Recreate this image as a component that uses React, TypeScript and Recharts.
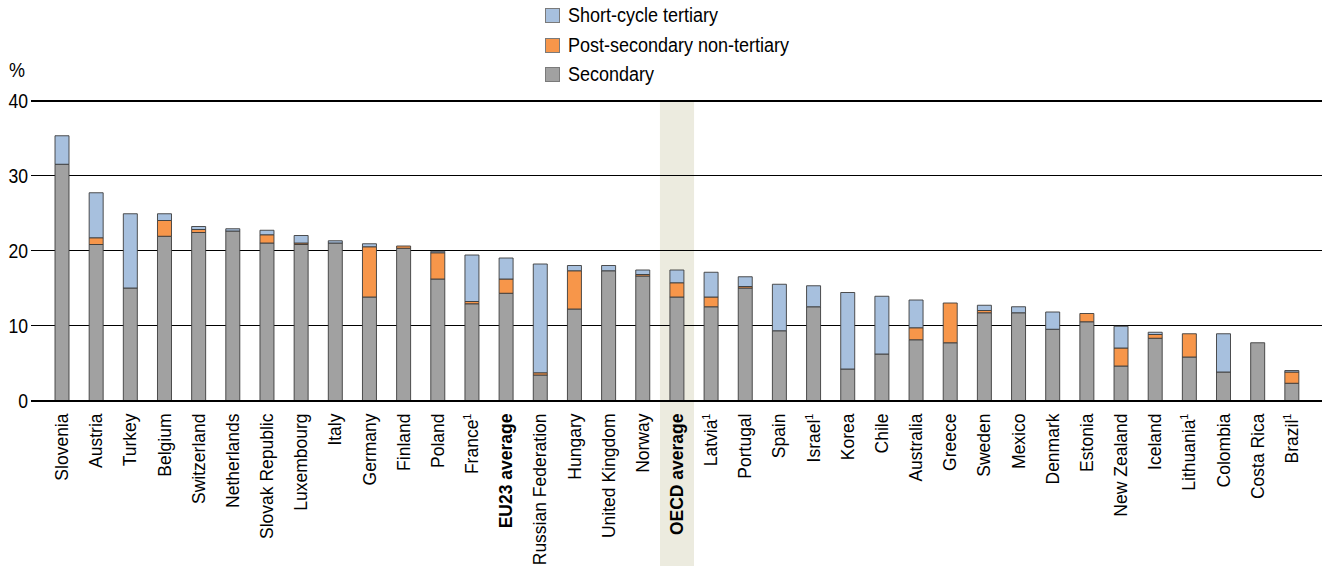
import {
  Bar,
  BarChart,
  Legend,
  ReferenceArea,
  ReferenceLine,
  XAxis,
  YAxis,
} from "recharts";

const countries = [
  "Slovenia", "Austria", "Turkey", "Belgium", "Switzerland", "Netherlands",
  "Slovak Republic", "Luxembourg", "Italy", "Germany", "Finland", "Poland",
  "France", "EU23 average", "Russian Federation", "Hungary", "United Kingdom",
  "Norway", "OECD average", "Latvia", "Portugal", "Spain", "Israel", "Korea",
  "Chile", "Australia", "Greece", "Sweden", "Mexico", "Denmark", "Estonia",
  "New Zealand", "Iceland", "Lithuania", "Colombia", "Costa Rica", "Brazil",
];

const secondary = [
  31.5, 20.8, 15.0, 21.9, 22.4, 22.6, 21.0, 20.8, 21.0, 13.8, 20.3, 16.2,
  12.9, 14.3, 3.4, 12.2, 17.3, 16.6, 13.8, 12.5, 15.0, 9.3, 12.5, 4.2,
  6.2, 8.1, 7.7, 11.7, 11.7, 9.5, 10.5, 4.6, 8.3, 5.8, 3.8, 7.7, 2.3,
];

const postSecondary = [
  0, 0.9, 0, 2.1, 0.4, 0, 1.1, 0.2, 0, 6.7, 0.3, 3.5,
  0.3, 1.9, 0.3, 5.1, 0, 0.2, 1.9, 1.3, 0.2, 0, 0, 0,
  0, 1.6, 5.3, 0.3, 0, 0, 1.1, 2.4, 0.5, 3.1, 0, 0, 1.5,
];

const shortCycle = [
  3.8, 6.0, 9.9, 0.9, 0.4, 0.3, 0.6, 1.0, 0.3, 0.4, 0, 0.2,
  6.2, 2.8, 14.5, 0.7, 0.7, 0.6, 1.7, 3.3, 1.3, 6.2, 2.8, 10.2,
  7.7, 3.7, 0, 0.7, 0.8, 2.3, 0, 2.9, 0.3, 0, 5.1, 0, 0.2,
];

const footnoted = ["France", "Latvia", "Israel", "Lithuania", "Brazil"];
const averages = ["EU23 average", "OECD average"];
const highlighted = "OECD average";
const yTicks = [0, 10, 20, 30, 40];
const gridValues = [10, 20, 30];

const data = countries.map((name, i) => ({
  name,
  secondary: secondary[i],
  postSecondary: postSecondary[i],
  shortCycle: shortCycle[i],
}));

const BLUE = "#a7c0de";
const ORANGE = "#f7964a";
const GREY = "#a1a1a1";
const HIGHLIGHT = "#ecebdf";
const FONT = "'Liberation Sans', Arial, sans-serif";

// thick rules sit half a pixel lower so they land on whole pixels
const ThickRule = (props: any) => (
  <line
    x1={props.x1}
    x2={props.x2}
    y1={props.y1 + 0.5}
    y2={props.y2 + 0.5}
    stroke="#000"
    strokeWidth={2}
  />
);

const CategoryTick = ({ x, y, payload }: any) => {
  const label: string = payload.value;
  const bold = averages.includes(label);
  return (
    <g transform={`translate(${x},${y})`}>
      {label === highlighted && (
        <rect x={-17} y={1.5} width={34} height={170} fill={HIGHLIGHT} />
      )}
      <text
        transform="rotate(-90)"
        x={-13}
        y={0}
        dy={6}
        textAnchor="end"
        fontSize={17.5}
        fontWeight={bold ? "bold" : "normal"}
        fontFamily={FONT}
        fill="#000"
      >
        {label}
        {footnoted.includes(label) && (
          <tspan fontSize={11} dy={-7}>
            1
          </tspan>
        )}
      </text>
    </g>
  );
};

const ValueTick = ({ x, y, payload }: any) => (
  <text
    transform={`translate(${x},${y}) scale(0.88,1)`}
    textAnchor="end"
    dy={7}
    fontSize={20}
    fontFamily={FONT}
    fill="#000"
  >
    {payload.value}
  </text>
);

const legendItems = [
  { key: "shortCycle", label: "Short-cycle tertiary", color: BLUE },
  { key: "postSecondary", label: "Post-secondary non-tertiary", color: ORANGE },
  { key: "secondary", label: "Secondary", color: GREY },
];

const LegendBox = () => (
  <div style={{ fontFamily: FONT, fontSize: 20, color: "#000" }}>
    {legendItems.map((item) => (
      <div
        key={item.key}
        style={{ display: "flex", alignItems: "center", height: 29.5, whiteSpace: "nowrap" }}
      >
        <span
          style={{
            width: 13,
            height: 13,
            background: item.color,
            border: "1px solid #7a7a7a",
            marginRight: 8,
            flex: "none",
          }}
        />
        <span
          style={{
            display: "inline-block",
            transform: "scaleX(0.9)",
            transformOrigin: "left center",
          }}
        >
          {item.label}
        </span>
      </div>
    ))}
  </div>
);

export default function App() {
  return (
    <div style={{ position: "absolute", left: 0, top: 0, background: "#fff" }}>
      <BarChart
        width={1324}
        height={566}
        data={data}
        barSize={14}
        margin={{ top: 100.5, right: 2, left: 0, bottom: 0 }}
      >
        <ReferenceArea
          x1={highlighted}
          x2={highlighted}
          y1={0}
          y2={40}
          fill={HIGHLIGHT}
          fillOpacity={1}
          stroke="none"
          zIndex={-200}
        />
        {gridValues.map((v) => (
          <ReferenceLine key={v} y={v} stroke="#000" strokeWidth={1} zIndex={-150} />
        ))}
        <ReferenceLine y={40} shape={ThickRule} zIndex={-150} />
        <XAxis
          dataKey="name"
          interval={0}
          height={165.5}
          padding={{ left: 14, right: 13 }}
          tickLine={false}
          tickSize={0}
          tickMargin={0}
          axisLine={false}
          tick={<CategoryTick />}
        />
        <YAxis
          width={31}
          domain={[0, 40]}
          ticks={yTicks}
          axisLine={false}
          tickLine={false}
          tickSize={0}
          tickMargin={3}
          tick={<ValueTick />}
          label={{
            content: () => (
              <text
                transform="translate(9,77) scale(0.9,1)"
                fontSize={20}
                fontFamily={FONT}
                fill="#000"
              >
                %
              </text>
            ),
          }}
        />
        <Legend
          layout="horizontal"
          verticalAlign="middle"
          align="center"
          wrapperStyle={{ top: 1, left: 545, width: "auto" }}
          content={<LegendBox />}
        />
        <Bar
          dataKey="secondary"
          name="Secondary"
          stackId="a"
          fill={GREY}
          stroke="#3c3c3c"
          strokeWidth={0.9}
          isAnimationActive={false}
        />
        <Bar
          dataKey="postSecondary"
          name="Post-secondary non-tertiary"
          stackId="a"
          fill={ORANGE}
          stroke="#3c3c3c"
          strokeWidth={0.9}
          isAnimationActive={false}
        />
        <Bar
          dataKey="shortCycle"
          name="Short-cycle tertiary"
          stackId="a"
          fill={BLUE}
          stroke="#3c3c3c"
          strokeWidth={0.9}
          isAnimationActive={false}
        />
        <ReferenceLine y={0} shape={ThickRule} zIndex={600} />
      </BarChart>
    </div>
  );
}
